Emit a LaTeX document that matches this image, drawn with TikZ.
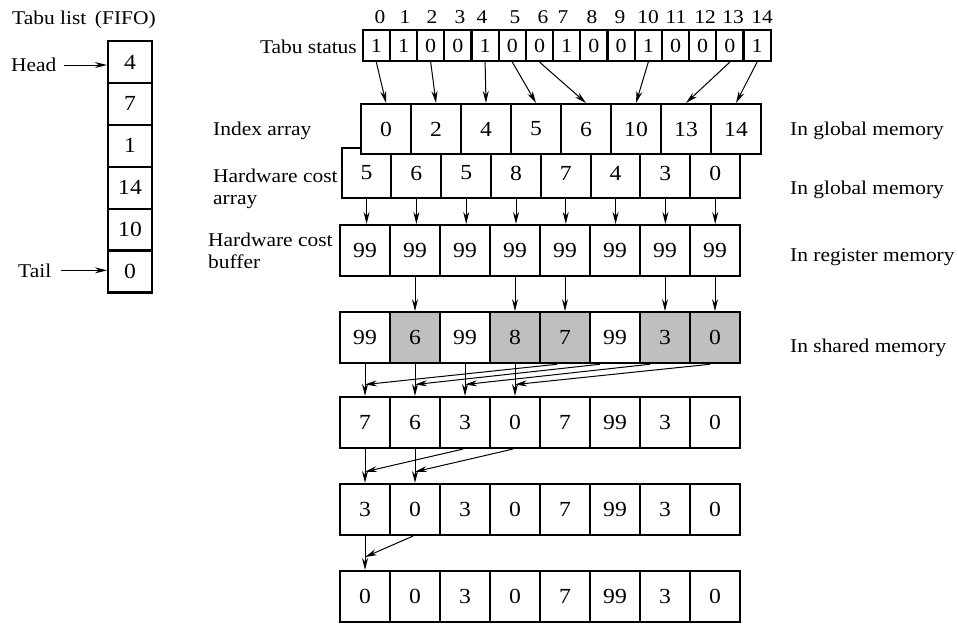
\documentclass[tikz,border=0pt]{standalone}
\usepackage{fontspec}
\setmainfont{Liberation Serif}[FakeStretch=1.1]
\usetikzlibrary{arrows.meta,calc}
\begin{document}
\begin{tikzpicture}[x=1pt,y=-1pt,
  lbl/.style={font=\fontsize{19.5}{22}\selectfont, inner sep=0pt},
  cellbase/.style={draw, line width=2.1pt, fill=white, inner sep=0pt, font=\fontsize{21.5}{24}\selectfont},
  stbox/.style={cellbase, minimum width=27.2pt, minimum height=31pt, font=\fontsize{20}{24}\selectfont},
  bigbox/.style={cellbase, minimum width=50pt, minimum height=50pt},
  rowbox/.style={cellbase, minimum width=50pt, minimum height=51pt},
  tlbox/.style={cellbase, minimum width=44pt, minimum height=42pt},
  shaded/.style={fill=black!25},
  arr/.style={-{Stealth[length=12pt,width=6pt]}, line width=1pt},
]
\useasboundingbox (0,0) rectangle (958,625);

% ---- Tabu list (FIFO)
\node[lbl, anchor=base west] (tltitle) at (12,24) {Tabu list\ \,(FIFO)};
\foreach \v [count=\i from 0] in {4,7,1,14,10,0}
  \node[tlbox] (tl\i) at (130,{62+41.9*\i}) {\v};
\node[lbl, anchor=base west] (head) at (11,71.7) {Head};
\node[lbl, anchor=base west] (tail) at (18,277) {Tail};
\draw[arr] ([xshift=7pt]head.east) -- (head.east -| tl0.west);
\draw[arr] ([xshift=10pt]tail.east) -- (tail.east -| tl5.west);

% ---- Tabu status
\node[lbl, anchor=base east] (tslbl) at (357,53) {Tabu status};
\foreach \v [count=\i from 0] in {1,1,0,0,1,0,0,1,0,0,1,0,0,0,1}
  \node[stbox] (s\i) at ({376.3+27.2*\i},45.5) {\v};
\foreach \x [count=\i from 0] in {380,405,432,460,482,515,543,563,592,620,648,676,705,733,762}
  \node[lbl] (n\i) at (\x,17) {\i};

% ---- Hardware cost array (behind index array)
\foreach \v [count=\i from 0] in {5,6,5,8,7,4,3,0}
  \node[bigbox] (hw\i) at ({366.6+49.8*\i},173) {\v};
% ---- Index array
\foreach \v [count=\i from 0] in {0,2,4,5,6,10,13,14}
  \node[bigbox] (ix\i) at ({386+50*\i},129) {\v};

% ---- Hardware cost buffer
\foreach \v [count=\i from 0] in {99,99,99,99,99,99,99,99}
  \node[rowbox] (bf\i) at ({365+50*\i},250.5) {\v};
% ---- Shared memory
\foreach \v/\s [count=\i from 0] in {99/,6/shaded,99/,8/shaded,7/shaded,99/,3/shaded,0/shaded}
  \node[rowbox,\s] (sh\i) at ({365+50*\i},337.7) {\v};
% ---- Reduction rows
\foreach \v [count=\i from 0] in {7,6,3,0,7,99,3,0}
  \node[rowbox] (ra\i) at ({365+50*\i},422.5) {\v};
\foreach \v [count=\i from 0] in {3,0,3,0,7,99,3,0}
  \node[rowbox] (rb\i) at ({365+50*\i},509.5) {\v};
\foreach \v [count=\i from 0] in {0,0,3,0,7,99,3,0}
  \node[rowbox] (rc\i) at ({365+50*\i},596.5) {\v};

% ---- Left labels
\node[lbl, anchor=base west] (ixlbl) at (213,135) {Index array};
\node[lbl, anchor=north west, align=left] (hwlbl) at (213,168.7) {Hardware cost\\array};
\node[lbl, anchor=north west, align=left] (bflbl) at (208,232.7) {Hardware cost\\buffer};

% ---- Right labels
\node[lbl, anchor=base west] (m1) at (790,135) {In global memory};
\node[lbl, anchor=base west] (m2) at (790,194) {In global memory};
\node[lbl, anchor=base west] (m3) at (790,261) {In register memory};
\node[lbl, anchor=base west] (m4) at (790,352) {In shared memory};

% ---- Arrows: tabu status -> index array
\foreach \a/\b in {0/0,2/1,4/2,5/3,6/4,10/5,13/6,14/7}
  \draw[arr] (s\a.south) -- (ix\b.north);
% ---- hardware cost array -> buffer
\foreach \i in {0,...,7}
  \draw[arr] (hw\i.south) -- (hw\i.south |- bf\i.north);
% ---- buffer -> shared
\foreach \i in {1,3,4,6,7}
  \draw[arr] (bf\i.south) -- (sh\i.north);
% ---- shared -> row A
\foreach \i in {0,...,3}
  \draw[arr] (sh\i.south) -- (ra\i.north);
\foreach \f/\t/\dx in {4/0/-8,5/1/-15,6/2/-15,7/3/-5}
  \draw[arr] ([xshift=\dx pt]sh\f.south) -- ($(sh\t.south)!0.64!(ra\t.north)$);
% ---- row A -> row B
\foreach \i in {0,1}
  \draw[arr] (ra\i.south) -- (rb\i.north);
\foreach \f/\t in {2/0,3/1}
  \draw[arr] ([xshift=-2pt]ra\f.south) -- ($(ra\t.south)!0.67!(rb\t.north)$);
% ---- row B -> row C
\draw[arr] (rb0.south) -- (rc0.north);
\draw[arr] ([xshift=-2pt]rb1.south) -- ($(rb0.south)!0.62!(rc0.north)$);
\end{tikzpicture}
\end{document}
